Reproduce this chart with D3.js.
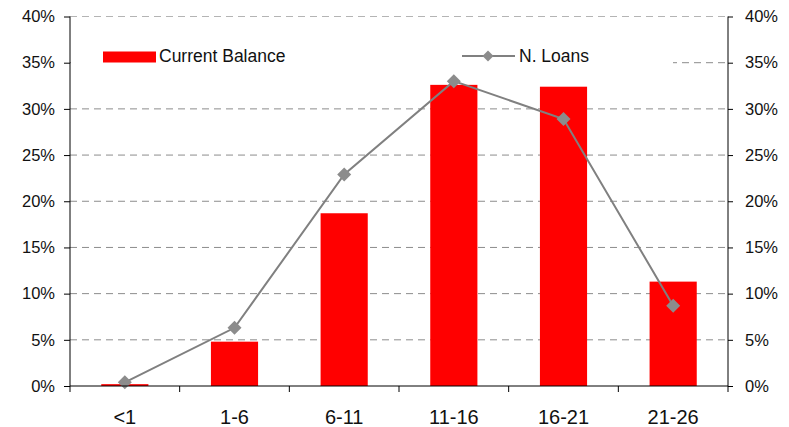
<!DOCTYPE html>
<html><head><meta charset="utf-8">
<script src="https://cdn.jsdelivr.net/npm/d3@7"></script>
<style>body{margin:0;background:#fff}svg{display:block}text{font-family:"Liberation Sans",Arial,sans-serif}</style>
</head><body><svg id="c" width="789" height="427"></svg>
<script>
const categories = ["<1","1-6","6-11","11-16","16-21","21-26"];
const currentBalance = [0.2,4.8,18.7,32.6,32.4,11.3];
const nLoans = [0.4,6.3,22.9,33.0,28.9,8.7];
const yTicks = [0,5,10,15,20,25,30,35,40];
const seriesNames = ["Current Balance","N. Loans"];

const svg = d3.select("#c");
const L=70, R=728, T=16.5, B=386;
const x = d3.scaleBand().domain(categories).range([L,R]).paddingInner(0.57).paddingOuter(0.285);
const xb = d3.scaleBand().domain(categories).range([L,R]);
const y = d3.scaleLinear().domain([0,40]).range([B,T]);
const txt = "#111";

// gridlines
svg.append("g").selectAll("line").data(yTicks.filter(d=>d>0)).join("line")
  .attr("x1",L).attr("x2",R).attr("y1",d=>y(d)).attr("y2",d=>y(d))
  .attr("stroke",d=>d===40?"#b4b4b4":"#8c8c8c").attr("stroke-width",1).attr("stroke-dasharray","7,5");

// legend background
svg.append("rect").attr("x",L+1).attr("y",38).attr("width",673-L-1).attr("height",40).attr("fill","#fff");

// bars
svg.append("g").selectAll("rect").data(currentBalance).join("rect")
  .attr("x",(d,i)=>x(categories[i])).attr("width",x.bandwidth())
  .attr("y",d=>y(d)).attr("height",d=>B-y(d)).attr("fill","#ff0000");

// line
const cx = i => xb(categories[i]) + xb.bandwidth()/2;
svg.append("path").datum(nLoans)
  .attr("d", d3.line().x((d,i)=>cx(i)).y(d=>y(d)))
  .attr("fill","none").attr("stroke","#808080").attr("stroke-width",2);
svg.append("g").selectAll("path").data(nLoans).join("path")
  .attr("d", d3.symbol().type(d3.symbolSquare).size(98))
  .attr("transform",(d,i)=>`translate(${cx(i)},${y(d)}) rotate(45)`)
  .attr("fill","#8c8c8c");

// axes
const fmt = d=>d+"%";
const yl = svg.append("g").attr("transform",`translate(${L},0)`)
  .call(d3.axisLeft(y).tickValues(yTicks).tickFormat(fmt).tickSize(6).tickPadding(9));
const yr = svg.append("g").attr("transform",`translate(${R},0)`)
  .call(d3.axisRight(y).tickValues(yTicks).tickFormat(fmt).tickSize(5).tickPadding(12));
[yl,yr].forEach(g=>{
  g.select(".domain").attr("stroke","#000").attr("d",`M0,${B}V${T}`);
  g.selectAll("line").attr("stroke","#000");
  g.selectAll("text").attr("font-size",16.5).attr("fill",txt).attr("font-family","Liberation Sans, Arial, sans-serif");
});
const xa = svg.append("g").attr("transform",`translate(0,${B})`)
  .call(d3.axisBottom(xb).tickSize(0).tickPadding(0));
xa.select(".domain").attr("stroke","#000").attr("d",`M${L},0H${R}`);
xa.selectAll("text").attr("font-size",20).attr("fill",txt).attr("dy",null).attr("y",38)
  .attr("font-family","Liberation Sans, Arial, sans-serif");
// category boundary ticks
const bounds = categories.map(c=>xb(c)).concat([R]);
xa.append("g").selectAll("line").data(bounds).join("line")
  .attr("x1",d=>d).attr("x2",d=>d).attr("y1",0).attr("y2",6).attr("stroke","#000");

// legend
const lg = svg.append("g");
lg.append("rect").attr("x",103).attr("y",51.5).attr("width",53).attr("height",11).attr("fill","#ff0000");
lg.append("text").attr("x",159).attr("y",62).attr("font-size",17.5).attr("fill",txt).text(seriesNames[0]);
lg.append("line").attr("x1",462).attr("x2",515).attr("y1",56).attr("y2",56).attr("stroke","#808080").attr("stroke-width",2);
lg.append("path").attr("d", d3.symbol().type(d3.symbolSquare).size(60))
  .attr("transform","translate(488,56) rotate(45)").attr("fill","#8c8c8c");
lg.append("text").attr("x",519).attr("y",62).attr("font-size",17.5).attr("fill",txt).text(seriesNames[1]);
</script></body></html>
